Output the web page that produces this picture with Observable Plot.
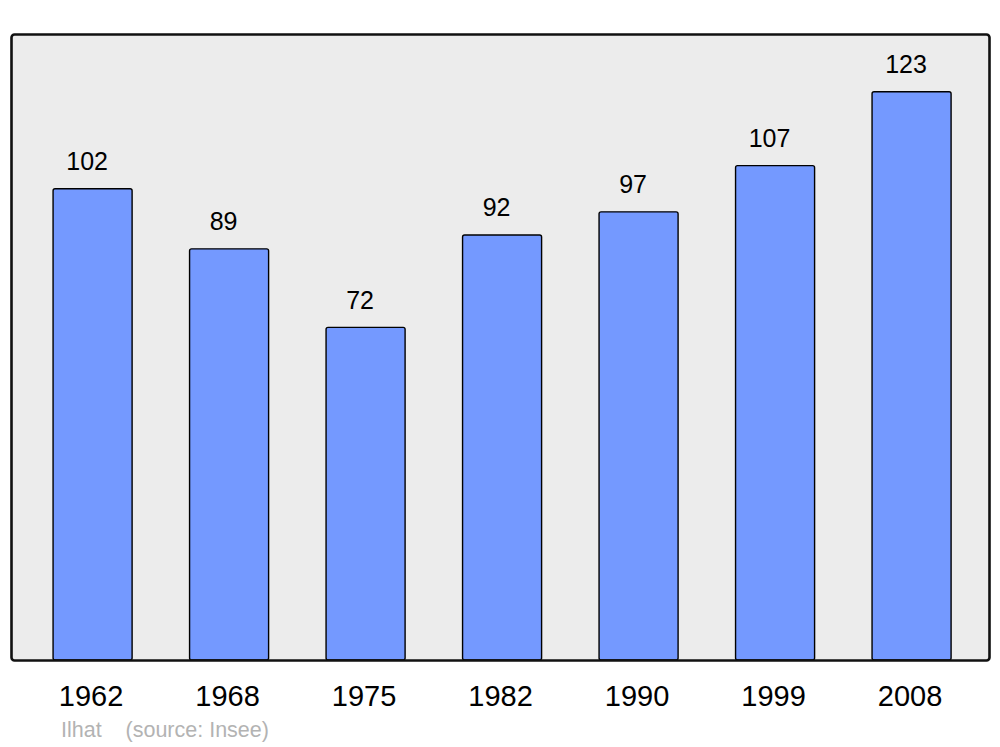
<!DOCTYPE html>
<html>
<head>
<meta charset="utf-8">
<script src="https://cdn.jsdelivr.net/npm/d3@7"></script>
<script src="https://cdn.jsdelivr.net/npm/@observablehq/plot@0.6"></script>
<style>
  html, body { margin: 0; padding: 0; background: #fff; }
  #wrap { position: relative; width: 1000px; height: 747px; font-family: "Liberation Sans", Arial, sans-serif; }
  #caption { position: absolute; left: 61px; top: 718px; font-size: 21.5px; color: #b3b3b3; white-space: pre; }
</style>
</head>
<body>
<div id="wrap"><div id="chart"></div><div id="caption"></div></div>
<script>
const years = ["1962", "1968", "1975", "1982", "1990", "1999", "2008"];
const population = [102, 89, 72, 92, 97, 107, 123];
const commune = "Ilhat";
const source = "(source: Insee)";

const data = years.map((y, i) => ({year: y, value: population[i]}));

const chart = Plot.plot({
  width: 1000,
  height: 747,
  marginTop: 34,
  marginBottom: 87,
  marginLeft: 11,
  marginRight: 11,
  style: {fontFamily: "'Liberation Sans', Arial, sans-serif", background: "transparent"},
  x: {domain: years, paddingInner: 0.421, paddingOuter: 0.293, align: 0.526, round: false, label: null},
  y: {domain: [0, 135.5], axis: null},
  marks: [
    Plot.frame({fill: "#ececec", stroke: "none", rx: 3}),
    Plot.barY(data, {x: "year", y: "value", fill: "#7499ff", stroke: "#000", strokeWidth: 1.4, rx: 2}),
    Plot.text(data, {x: "year", y: "value", text: d => String(d.value), dy: -27, dx: -6, fontSize: 25, fill: "#000"}),
    Plot.frame({stroke: "#111", strokeWidth: 2.6, rx: 3}),
    Plot.axisX({tickSize: 0, tickPadding: 25, dx: -2, fontSize: 29, fill: "#000", label: null})
  ]
});
document.getElementById("chart").appendChild(chart);
document.getElementById("caption").textContent = commune + "    " + source;
</script>
</body>
</html>
